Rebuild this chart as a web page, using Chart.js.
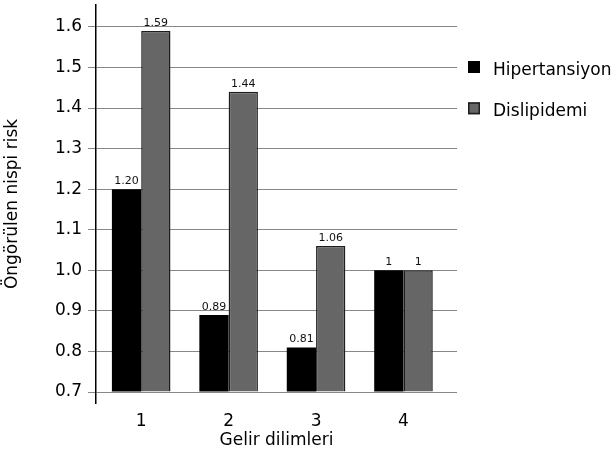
<!DOCTYPE html>
<html>
<head>
<meta charset="utf-8">
<script src="https://cdn.jsdelivr.net/npm/chart.js@4.4.1/dist/chart.umd.min.js"></script>
<style>
  html, body { margin: 0; padding: 0; background: #fff; }
  #wrap { width: 614px; height: 454px; }
</style>
</head>
<body>
<div id="wrap"><canvas id="riskChart" width="614" height="454"></canvas></div>
<script>
// Gelir dilimleri (income brackets)
const categories = ['1', '2', '3', '4'];
const categoryPositions = [1, 2, 3, 4];

// Predicted relative risk per bracket
const hipertansiyon = [1.20, 0.89, 0.81, 1.00];
const dislipidemi = [1.59, 1.44, 1.06, 1.00];

// Labels printed above the bars
const hipertansiyonLabels = ['1.20', '0.89', '0.81', '1'];
const dislipidemiLabels = ['1.59', '1.44', '1.06', '1'];

const yTicks = [0.7, 0.8, 0.9, 1.0, 1.1, 1.2, 1.3, 1.4, 1.5, 1.6];

const valueLabels = [hipertansiyonLabels, dislipidemiLabels];

Chart.defaults.font.family = "'DejaVu Sans', sans-serif";
Chart.defaults.color = '#000';

// Numbers above each bar
const barValueLabels = {
    id: 'barValueLabels',
    afterDatasetsDraw(chart) {
        const ctx = chart.ctx;
        ctx.save();
        ctx.font = "11px 'DejaVu Sans', sans-serif";
        ctx.fillStyle = '#111';
        ctx.textAlign = 'center';
        ctx.textBaseline = 'alphabetic';
        chart.data.datasets.forEach((ds, di) => {
            chart.getDatasetMeta(di).data.forEach((bar, i) => {
                ctx.fillText(valueLabels[di][i], bar.x, bar.y - 5);
            });
        });
        ctx.restore();
    }
};

// Legend to the right of the plot
const sideLegend = {
    id: 'sideLegend',
    afterDraw(chart) {
        const ctx = chart.ctx;
        const left = chart.chartArea.right + 11;
        ctx.save();
        ctx.font = "17px 'DejaVu Sans', sans-serif";
        ctx.textBaseline = 'alphabetic';
        ctx.textAlign = 'left';
        chart.data.datasets.forEach((ds, i) => {
            const baseline = 75 + i * 41.3;
            ctx.fillStyle = ds.backgroundColor;
            ctx.fillRect(left, baseline - 14, 12, 12);
            if (ds.borderWidth) {
                ctx.strokeStyle = ds.borderColor;
                ctx.lineWidth = 1.5;
                ctx.strokeRect(left + 0.75, baseline - 13.25, 10.5, 10.5);
            }
            ctx.fillStyle = '#000';
            ctx.fillText(ds.label, left + 25, baseline);
        });
        ctx.restore();
    }
};

const noEdgePadding = scale => {
    scale.paddingTop = 0;
    scale.paddingBottom = 0;
    scale.paddingLeft = 0;
    scale.paddingRight = 0;
};

new Chart(document.getElementById('riskChart'), {
    type: 'bar',
    data: {
        datasets: [{
            label: 'Hipertansiyon',
            data: categoryPositions.map((x, i) => ({ x: x, y: hipertansiyon[i] })),
            backgroundColor: '#000000',
            borderWidth: 0,
            base: 0.7
        }, {
            label: 'Dislipidemi',
            data: categoryPositions.map((x, i) => ({ x: x, y: dislipidemi[i] })),
            backgroundColor: '#666666',
            borderColor: '#1e1e1e',
            borderWidth: 1.5,
            base: 0.7
        }]
    },
    options: {
        responsive: false,
        animation: false,
        categoryPercentage: 0.67,
        barPercentage: 1,
        layout: { padding: { left: 0, right: 157, top: 5, bottom: 0 } },
        plugins: {
            legend: { display: false },
            tooltip: { enabled: false }
        },
        scales: {
            x: {
                type: 'linear',
                offset: false,
                min: 0.483,
                max: 4.612,
                afterBuildTicks: scale => {
                    scale.ticks = categoryPositions.map(v => ({ value: v }));
                },
                afterFit: scale => {
                    scale.height = 51;
                    noEdgePadding(scale);
                },
                ticks: {
                    callback: (value, index) => categories[index],
                    font: { size: 17 },
                    padding: 0,
                    autoSkip: false,
                    maxRotation: 0
                },
                grid: { display: false },
                border: { display: false },
                title: {
                    display: true,
                    text: 'Gelir dilimleri',
                    font: { size: 17 },
                    padding: { top: 0, bottom: 3 }
                }
            },
            y: {
                min: 0.673,
                max: 1.654,
                afterBuildTicks: scale => {
                    scale.ticks = yTicks.map(v => ({ value: v }));
                },
                afterFit: scale => {
                    scale.width = 96;
                    noEdgePadding(scale);
                },
                ticks: {
                    callback: value => value.toFixed(1),
                    font: { size: 17 },
                    padding: 6
                },
                grid: { color: '#888888', lineWidth: 1, tickLength: 8 },
                border: { color: '#000', width: 1.5 },
                title: {
                    display: true,
                    text: 'Öngörülen nispi risk',
                    font: { size: 17 },
                    padding: { top: 2, bottom: 0 }
                }
            }
        }
    },
    plugins: [barValueLabels, sideLegend]
});
</script>
</body>
</html>
